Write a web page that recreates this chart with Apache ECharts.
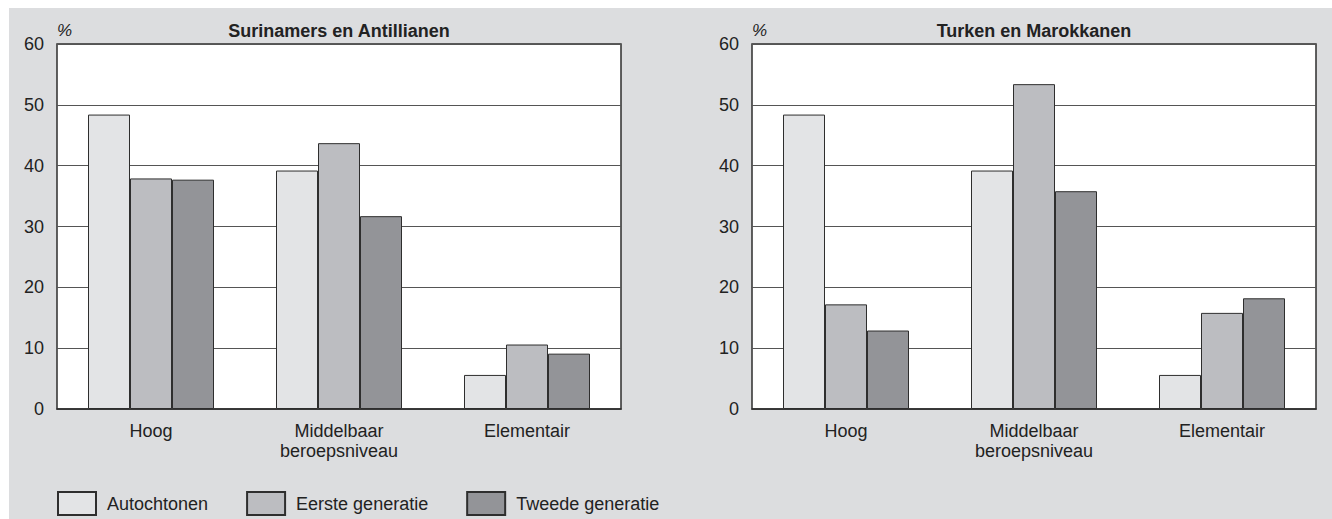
<!DOCTYPE html>
<html>
<head>
<meta charset="utf-8">
<script src="https://cdn.jsdelivr.net/npm/echarts@6/dist/echarts.min.js"></script>
<style>
html,body{margin:0;padding:0;background:#ffffff;}
#chart{width:1332px;height:519px;}
</style>
</head>
<body>
<div id="chart"></div>
<script>
// ---- data ----
const categories = ['Hoog', 'Middelbaar\nberoepsniveau', 'Elementair'];
const seriesNames = ['Autochtonen', 'Eerste generatie', 'Tweede generatie'];
const panelTitles = ['Surinamers en Antillianen', 'Turken en Marokkanen'];
const yTicks = [0, 10, 20, 30, 40, 50, 60];
// Surinamers en Antillianen
const surAutochtonen = [48.4, 39.2, 5.6];
const surEerste = [37.9, 43.7, 10.6];
const surTweede = [37.7, 31.7, 9.1];
// Turken en Marokkanen
const turAutochtonen = [48.4, 39.2, 5.6];
const turEerste = [17.2, 53.4, 15.8];
const turTweede = [12.9, 35.8, 18.2];

// ---- styles ----
const FONT = "'Liberation Sans', Arial, Helvetica, sans-serif";
const colors = ['#e3e4e6', '#bcbdc1', '#939498'];
const panelData = [[surAutochtonen, surEerste, surTweede], [turAutochtonen, turEerste, turTweede]];
const grids = [
  {left: 57, top: 44, width: 564, height: 365},
  {left: 752, top: 44, width: 564, height: 365}
];

const chart = echarts.init(document.getElementById('chart'), null, {renderer: 'svg'});

const series = [];
panelData.forEach((group, gi) => {
  group.forEach((vals, si) => {
    series.push({
      name: seriesNames[si],
      type: 'bar',
      xAxisIndex: gi,
      yAxisIndex: gi,
      data: vals,
      barWidth: 42,
      barGap: '0%',
      itemStyle: {color: colors[si], borderColor: '#2e2e2e', borderWidth: 1},
      emphasis: {disabled: true},
      animation: false
    });
  });
});

const option = {
  animation: false,
  textStyle: {fontFamily: FONT},
  graphic: [
    {type: 'rect', silent: true, z: -10, shape: {x: 9, y: 8, width: 1323, height: 511}, style: {fill: '#dcdddf'}},
    ...panelTitles.map((t, i) => ({
      type: 'text', silent: true,
      style: {text: t, x: grids[i].left + grids[i].width / 2, y: 31, textAlign: 'center', textVerticalAlign: 'middle',
        font: 'bold 18px ' + FONT, fill: '#222222'}
    })),
    ...grids.map(g => ({
      type: 'text', silent: true,
      style: {text: '%', x: g.left, y: 30, textAlign: 'left', textVerticalAlign: 'middle',
        font: 'italic 17px ' + FONT, fill: '#222222'}
    }))
  ],
  grid: grids.map(g => Object.assign({show: true, backgroundColor: '#ffffff', borderColor: '#2e2e2e', borderWidth: 1.5, containLabel: false}, g)),
  legend: {
    data: seriesNames,
    left: 57, top: 491,
    padding: 0,
    itemWidth: 38, itemHeight: 23, itemGap: 38,
    icon: 'rect',
    selectedMode: false,
    textStyle: {fontFamily: FONT, fontSize: 18, color: '#222222', padding: [6, 0, 0, 6]}
  },
  xAxis: grids.map((g, i) => ({
    type: 'category', gridIndex: i, data: categories,
    axisTick: {show: false},
    axisLine: {show: true, lineStyle: {color: '#2e2e2e', width: 1.5}},
    axisLabel: {fontSize: 18, lineHeight: 20, margin: 12, color: '#222222', interval: 0, fontFamily: FONT}
  })),
  yAxis: grids.map((g, i) => ({
    type: 'value', gridIndex: i, min: yTicks[0], max: yTicks[yTicks.length - 1], interval: 10,
    axisLine: {show: false}, axisTick: {show: false},
    axisLabel: {fontSize: 18, margin: 13, color: '#222222', fontFamily: FONT},
    splitLine: {show: true, lineStyle: {color: '#555555', width: 1}}
  })),
  series: series
};
chart.setOption(option);
</script>
</body>
</html>
